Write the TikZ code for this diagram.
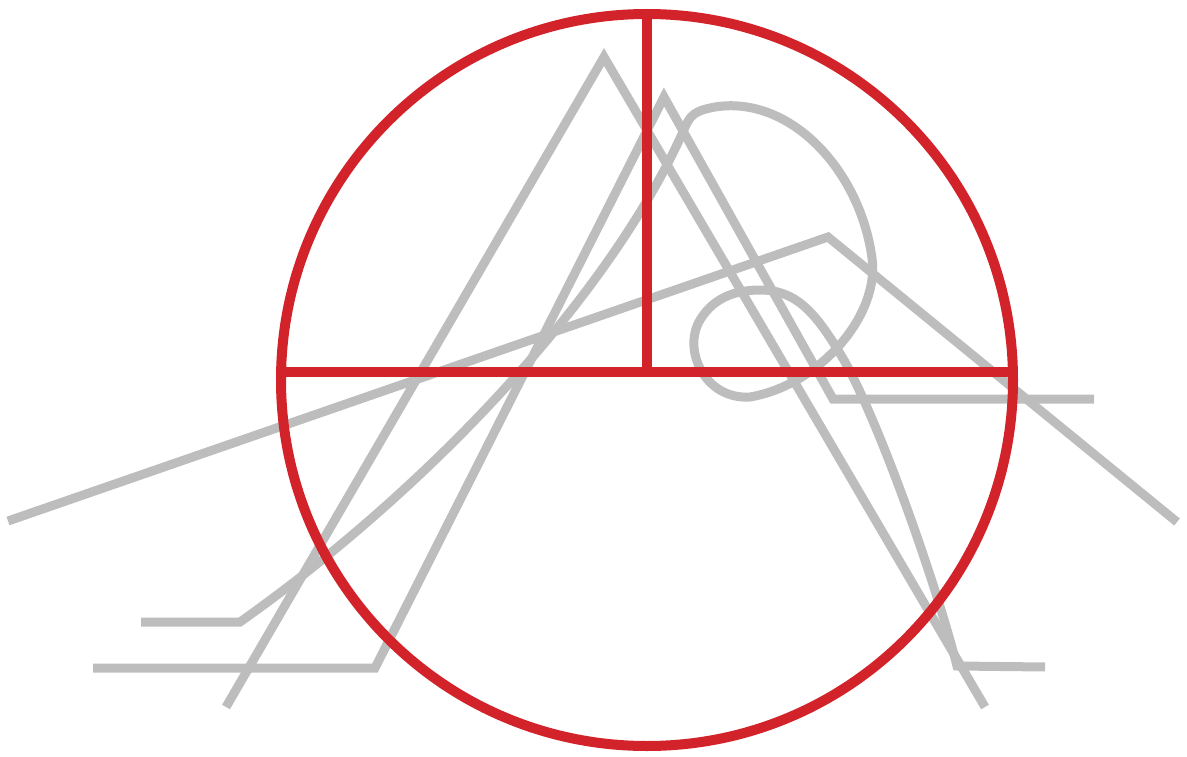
\documentclass[tikz,border=0pt]{standalone}
\definecolor{gline}{RGB}{189,189,189}
\definecolor{rline}{RGB}{210,35,42}
\tikzset{
  grayline/.style={draw=gline, line width=9pt, line join=miter},
  redline/.style={draw=rline, line width=10pt},
}
\begin{document}
\begin{tikzpicture}[x=1pt,y=-1pt]
\useasboundingbox (0,0) rectangle (1187,757);
% gray strokes
\draw[grayline] (8,521) -- (828,237) -- (1177,522);
\draw[grayline] (226,707) -- (604,57) -- (985,707);
\draw[grayline] (93,668) -- (375,668) -- (664,97) -- (833,399) -- (1094,399);
\draw[grayline] (141,622) -- (240,622)
  .. controls (420,495) and (610,300) .. (686,125)
  .. controls (692,112) and (700,110) .. (715,107)
  .. controls (790,95) and (860,170) .. (872,258)
  .. controls (880,315) and (820,385) .. (750,397)
  .. controls (705,400) and (682,350) .. (700,320)
  .. controls (715,295) and (740,290) .. (760,290)
  .. controls (795,290) and (815,310) .. (845,362)
  .. controls (880,425) and (935,580) .. (957,666)
  -- (1045,667);
% red strokes
\draw[redline] (647,380) circle (366);
\draw[redline] (281,372) -- (1013,372);
\draw[redline] (647,14) -- (647,372);
\end{tikzpicture}
\end{document}
